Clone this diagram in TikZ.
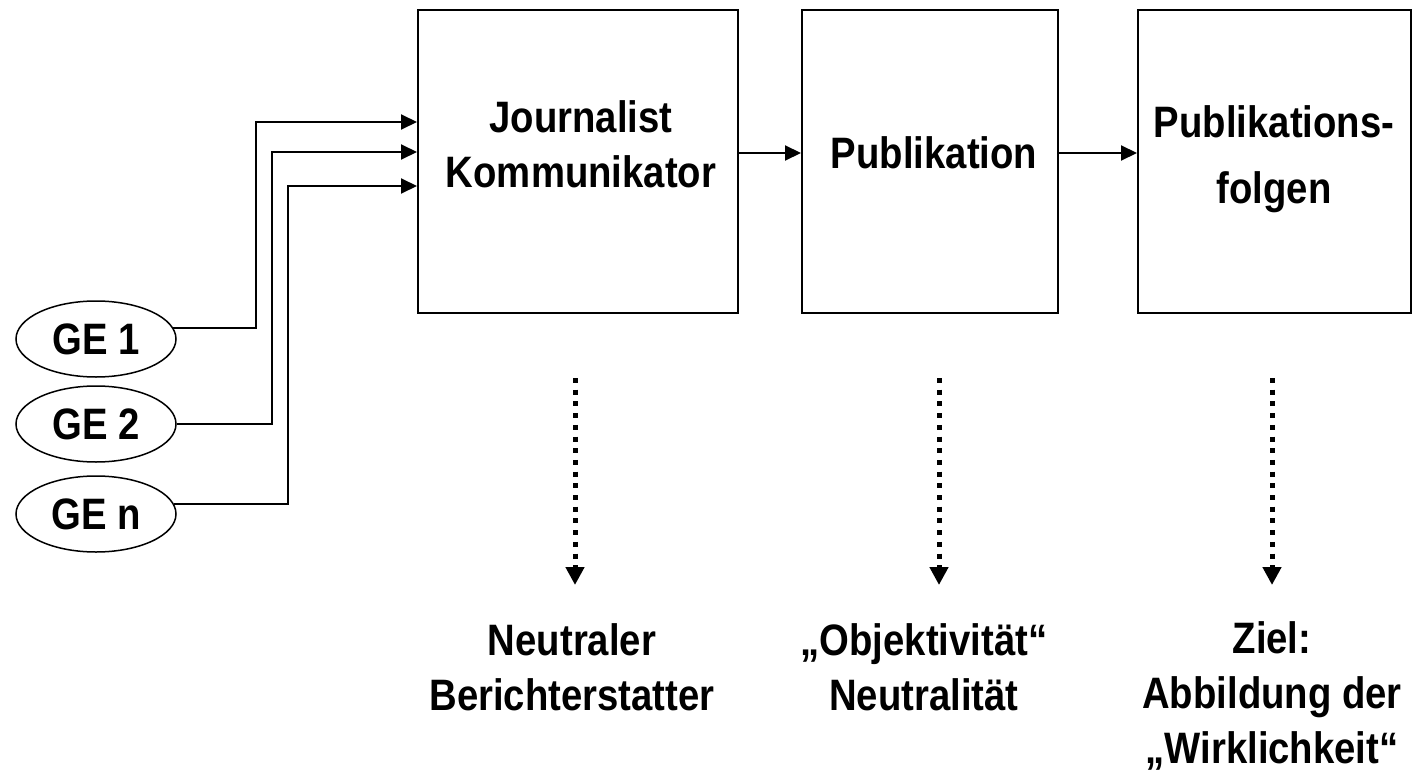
\documentclass[tikz,border=0pt]{standalone}
\usepackage{fontspec}
\setmainfont{Liberation Sans}[FakeStretch=0.87]
\usetikzlibrary{arrows.meta,shapes.geometric}

\tikzset{
  stagebox/.style={draw, line width=2pt, minimum height=303pt, inner sep=0pt},
  source/.style={draw, ellipse, line width=1.5pt, minimum width=160pt, minimum height=76pt, inner sep=0pt},
  lbl/.style={align=center, inner sep=0pt},
  conn/.style={line width=2pt, -{Triangle[length=16pt,width=15pt]}},
  dotarrow/.style={line width=5pt, line cap=butt, dash pattern=on 5pt off 6.7pt,
                   -{Triangle[length=18pt,width=18pt]}},
}

\begin{document}
\begin{tikzpicture}[x=1pt, y=-1pt, font=\fontsize{44}{55}\selectfont\bfseries]
  \useasboundingbox (0,0) rectangle (1423,781);

  % stage boxes
  \node[stagebox, minimum width=320pt] (box1) at (578,161.5) {};
  \node[stagebox, minimum width=256pt] (box2) at (930,161.5) {};
  \node[stagebox, minimum width=273pt] (box3) at (1274.5,161.5) {};

  \node[lbl] (t1) at (581,144) {Journalist\\Kommunikator};
  \node[lbl] (t2) at (934,153) {Publikation};
  \node[lbl, font=\fontsize{44}{66}\selectfont\bfseries] (t3) at (1274,159) {Publikations-\\folgen};

  % sources
  \node[source] (ge1) at (96,339) {GE 1};
  \node[source] (ge2) at (96,424) {GE 2};
  \node[source] (ge3) at (96,514) {GE n};

  \coordinate (k1) at (256,122);
  \coordinate (k2) at (272,152);
  \coordinate (k3) at (288,186);

  \draw[conn] (ge1.8) -| (k1) -- (k1 -| box1.west);
  \draw[conn] (ge2.east) -| (k2) -- (k2 -| box1.west);
  \draw[conn] (ge3.7) -| (k3) -- (k3 -| box1.west);

  % flow between stages
  \draw[conn] ([yshift=8.5pt]box1.east) -- ([yshift=8.5pt]box2.west);
  \draw[conn] ([yshift=8.5pt]box2.east) -- ([yshift=8.5pt]box3.west);

  % bottom labels
  \node[lbl] (b1) at (572,667) {Neutraler\\Berichterstatter};
  \node[lbl] (b2) at (924,667) {„Objektivität“\\Neutralität};
  \node[lbl] (b3) at (1272,696) {Ziel:\\Abbildung der\\„Wirklichkeit“};

  \coordinate (d1s) at (575,378);
  \coordinate (d1e) at (575,585);
  \coordinate (d2s) at (939,378);
  \coordinate (d2e) at (939,585);
  \coordinate (d3s) at (1272,378);
  \coordinate (d3e) at (1272,585);

  \draw[dotarrow] (d1s) -- (d1e);
  \draw[dotarrow] (d2s) -- (d2e);
  \draw[dotarrow] (d3s) -- (d3e);
\end{tikzpicture}
\end{document}
